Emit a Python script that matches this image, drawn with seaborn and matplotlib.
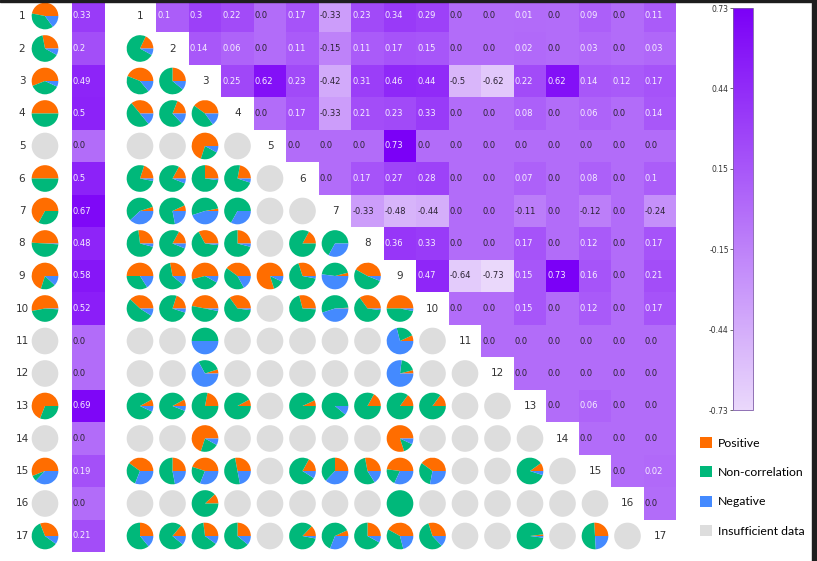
import numpy as np
import pandas as pd
import matplotlib
matplotlib.use('Agg')
import matplotlib.pyplot as plt
import seaborn as sns
from matplotlib.colors import LinearSegmentedColormap
from matplotlib.patches import Patch, Rectangle

# ---- data ----
labels = ['1', '2', '3', '4', '5', '6', '7', '8', '9', '10', '11', '12', '13', '14', '15', '16', '17']

# left column: overall value and (positive, non-correlation, negative) share per variable
overall = [0.33, 0.2, 0.49, 0.5, 0.0, 0.5, 0.67, 0.48, 0.58, 0.52, 0.0, 0.0, 0.69, 0.0, 0.19, 0.0, 0.21]
overall_pies = [(0.47, 0.38, 0.15), (0.28, 0.64, 0.08), (0.56, 0.37, 0.07), (0.5, 0.5, 0.0), None,
                (0.5, 0.5, 0.0), (0.67, 0.33, 0.0), (0.49, 0.50, 0.01), (0.70, 0.18, 0.12),
                (0.53, 0.46, 0.01), None, None, (0.69, 0.31, 0.0), None, (0.56, 0.07, 0.37),
                None, (0.31, 0.59, 0.10)]

# upper triangle, row i -> columns i+1 .. 17
upper = [
    [0.1, 0.3, 0.22, 0.0, 0.17, -0.33, 0.23, 0.34, 0.29, 0.0, 0.0, 0.01, 0.0, 0.09, 0.0, 0.11],
    [0.14, 0.06, 0.0, 0.11, -0.15, 0.11, 0.17, 0.15, 0.0, 0.0, 0.02, 0.0, 0.03, 0.0, 0.03],
    [0.25, 0.62, 0.23, -0.42, 0.31, 0.46, 0.44, -0.5, -0.62, 0.22, 0.62, 0.14, 0.12, 0.17],
    [0.0, 0.17, -0.33, 0.21, 0.23, 0.33, 0.0, 0.0, 0.08, 0.0, 0.06, 0.0, 0.14],
    [0.0, 0.0, 0.0, 0.73, 0.0, 0.0, 0.0, 0.0, 0.0, 0.0, 0.0, 0.0],
    [0.0, 0.17, 0.27, 0.28, 0.0, 0.0, 0.07, 0.0, 0.08, 0.0, 0.1],
    [-0.33, -0.48, -0.44, 0.0, 0.0, -0.11, 0.0, -0.12, 0.0, -0.24],
    [0.36, 0.33, 0.0, 0.0, 0.17, 0.0, 0.12, 0.0, 0.17],
    [0.47, -0.64, -0.73, 0.15, 0.73, 0.16, 0.0, 0.21],
    [0.0, 0.0, 0.15, 0.0, 0.12, 0.0, 0.17],
    [0.0, 0.0, 0.0, 0.0, 0.0, 0.0],
    [0.0, 0.0, 0.0, 0.0, 0.0],
    [0.0, 0.06, 0.0, 0.0],
    [0.0, 0.0, 0.0],
    [0.0, 0.02],
    [0.0],
]

# lower triangle pies, row i -> columns 1 .. i-1 ; None = insufficient data
pies = {
    2: [(0.18, 0.74, 0.08)],
    3: [(0.44, 0.42, 0.14), (0.25, 0.64, 0.11)],
    4: [(0.36, 0.50, 0.14), (0.19, 0.68, 0.13), (0.40, 0.45, 0.15)],
    5: [None, None, (0.70, 0.22, 0.08), None],
    6: [(0.20, 0.77, 0.03), (0.17, 0.77, 0.06), (0.25, 0.73, 0.02), (0.22, 0.73, 0.05), None],
    7: [(0.05, 0.57, 0.38), (0.07, 0.71, 0.22), (0.03, 0.52, 0.45), (0.0, 0.67, 0.33), None, None],
    8: [(0.27, 0.69, 0.04), (0.17, 0.77, 0.06), (0.33, 0.65, 0.02), (0.25, 0.71, 0.04), None,
        (0.17, 0.83, 0.0), (0.0, 0.67, 0.33)],
    9: [(0.50, 0.34, 0.16), (0.28, 0.61, 0.11), (0.54, 0.38, 0.08), (0.40, 0.43, 0.17),
        (0.80, 0.13, 0.07), (0.30, 0.67, 0.03), (0.04, 0.44, 0.52), (0.42, 0.52, 0.06)],
    10: [(0.38, 0.53, 0.09), (0.20, 0.75, 0.05), (0.47, 0.50, 0.03), (0.35, 0.63, 0.02), None,
         (0.29, 0.70, 0.01), (0.01, 0.54, 0.45), (0.35, 0.63, 0.02), (0.50, 0.47, 0.03)],
    11: [None, None, (0.0, 0.5, 0.5), None, None, None, None, None, (0.07, 0.22, 0.71), None],
    12: [None, None, (0.05, 0.28, 0.67), None, None, None, None, None, (0.04, 0.19, 0.77), None, None],
    13: [(0.08, 0.85, 0.07), (0.08, 0.86, 0.06), (0.22, 0.78, 0.0), (0.08, 0.92, 0.0), None,
         (0.07, 0.93, 0.0), (0.0, 0.89, 0.11), (0.17, 0.83, 0.0), (0.15, 0.85, 0.0), (0.15, 0.85, 0.0),
         None, None],
    14: [None, None, (0.70, 0.22, 0.08), None, None, None, None, None, (0.80, 0.13, 0.07),
         None, None, None, None],
    15: [(0.40, 0.29, 0.31), (0.25, 0.53, 0.22), (0.45, 0.24, 0.31), (0.28, 0.50, 0.22), None,
         (0.17, 0.74, 0.09), (0.25, 0.38, 0.37), (0.28, 0.56, 0.16), (0.48, 0.20, 0.32),
         (0.40, 0.32, 0.28), None, None, (0.10, 0.85, 0.05), None],
    16: [None, None, (0.12, 0.88, 0.0), None, None, None, None, None, (0.0, 1.0, 0.0),
         None, None, None, None, None, None],
    17: [(0.25, 0.61, 0.14), (0.14, 0.75, 0.11), (0.27, 0.63, 0.10), (0.25, 0.64, 0.11), None,
         (0.13, 0.84, 0.03), (0.07, 0.62, 0.31), (0.25, 0.67, 0.08), (0.42, 0.37, 0.21),
         (0.30, 0.57, 0.13), None, None, (0.02, 0.96, 0.02), None, (0.26, 0.50, 0.24), None],
}

legend_names = ['Positive', 'Non-correlation', 'Negative', 'Insufficient data']
pie_colors = ['#ff6d00', '#00b87a', '#448aff']
gray = '#dddddd'
cmap = LinearSegmentedColormap.from_list('lav', ['#ead8fb', '#7b00f7'])
vmin, vmax = -0.73, 0.73

# ---- layout (pixels) ----
W, H = 817, 561
n = 17
cell = 32.5
y_top = -0.25
fig = plt.figure(figsize=(W / 100, H / 100), dpi=100)


def rect(left_px, ncols):
    return [left_px / W, (H - (y_top + n * cell)) / H, ncols * cell / W, n * cell / H]


ax_pie0 = fig.add_axes(rect(28.75, 1))
ax_left = fig.add_axes(rect(72, 1))
ax = fig.add_axes(rect(123.75, n))
cax = fig.add_axes([733 / W, 1 - 410 / H, 20 / W, 402 / H])

# matrix values
M = np.full((n, n), np.nan)
for i, row in enumerate(upper):
    for k, v in enumerate(row):
        M[i, i + 1 + k] = v
mat = pd.DataFrame(M, index=labels, columns=labels)
annot = mat.map(lambda v: '' if np.isnan(v) else str(v))

sns.heatmap(mat, ax=ax, mask=mat.isna(), cmap=cmap, vmin=vmin, vmax=vmax,
            annot=annot, fmt='', annot_kws={'size': 6},
            cbar=True, cbar_ax=cax, xticklabels=False, yticklabels=False)
cbar = ax.collections[0].colorbar

left_df = pd.DataFrame({'overall': overall}, index=labels)
sns.heatmap(left_df, ax=ax_left, cmap=cmap, vmin=vmin, vmax=vmax,
            annot=left_df.map(str), fmt='', annot_kws={'size': 6},
            cbar=False, xticklabels=False, yticklabels=False)

# left-align the annotations like the original
for a in (ax, ax_left):
    for t in a.texts:
        x, y = t.get_position()
        t.set_position((x - 0.47, y))
        t.set_ha('left')
        t.set_color('#2b2233' if float(t.get_text()) <= 0 else '#f6efff')


def draw_pie(a, cx, cy, fr, r=0.41):
    if fr is None:
        a.pie([1], colors=[gray], center=(cx, cy), radius=r, frame=True,
              wedgeprops=dict(linewidth=0))
    else:
        a.pie(fr, colors=pie_colors, center=(cx, cy), radius=r, startangle=0,
              counterclock=False, frame=True, wedgeprops=dict(linewidth=0))


for i, row in pies.items():
    for j, fr in enumerate(row):
        draw_pie(ax, j + 0.5, i - 0.5, fr)
for i, fr in enumerate(overall_pies):
    draw_pie(ax_pie0, 0.5, i + 0.5, fr)

# diagonal labels
for i, lab in enumerate(labels):
    ax.text(i + 0.5, i + 0.5, lab, ha='center', va='center', fontsize=7.5, color='#333333')

ax.set_xlim(0, n)
ax.set_ylim(n, 0)
ax_pie0.set_xlim(0, 1)
ax_pie0.set_ylim(n, 0)
for a in (ax, ax_pie0, ax_left):
    a.set_aspect('auto')
    a.axis('off')

# row labels
for i, lab in enumerate(labels):
    ax_pie0.text((22 - 28.75) / cell, i + 0.5, lab, ha='center', va='center',
                 fontsize=7.5, color='#333333', clip_on=False)

# colorbar
ticks = np.linspace(vmin, vmax, 6)
cax.yaxis.set_ticks_position('left')
cax.set_yticks(ticks)
cax.set_yticklabels(['%.2f' % t for t in ticks])
cax.tick_params(labelsize=5.5, length=2, width=0.5, colors='#333333', pad=1)
cbar.outline.set_linewidth(0.6)
cbar.outline.set_edgecolor('#7d5aa8')

# legend
handles = [Patch(facecolor=c, edgecolor='none') for c in pie_colors + [gray]]
fig.legend(handles, legend_names, loc='upper left', bbox_to_anchor=(695 / W, 1 - 432 / H),
           frameon=False, prop={'family': 'Lato', 'size': 8.8}, handlelength=1.0,
           handleheight=1.0, handletextpad=0.45, labelspacing=1.45, borderaxespad=0)

# screenshot border
fig.patches.append(Rectangle((0, 1 - 2 / H), 1, 2 / H, transform=fig.transFigure,
                             color='#1e1e1e', zorder=10))
fig.patches.append(Rectangle((1 - 5 / W, 0), 5 / W, 1, transform=fig.transFigure,
                             color='#1e1e1e', zorder=10))

fig.savefig('out.png', dpi=100)
